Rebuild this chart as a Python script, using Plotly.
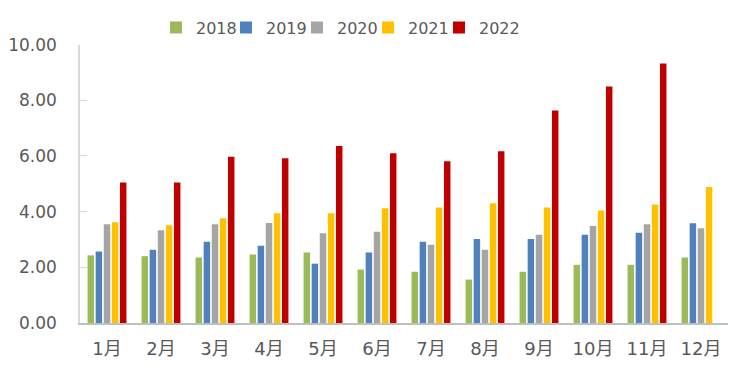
import plotly.graph_objects as go

months = ["1月", "2月", "3月", "4月", "5月", "6月", "7月", "8月", "9月", "10月", "11月", "12月"]
v2018 = [2.43, 2.40, 2.35, 2.46, 2.53, 1.92, 1.84, 1.56, 1.84, 2.09, 2.09, 2.35]
v2019 = [2.57, 2.63, 2.92, 2.77, 2.13, 2.53, 2.92, 3.02, 3.02, 3.17, 3.24, 3.58]
v2020 = [3.55, 3.33, 3.55, 3.59, 3.22, 3.28, 2.81, 2.63, 3.17, 3.48, 3.55, 3.40]
v2021 = [3.62, 3.51, 3.76, 3.94, 3.94, 4.12, 4.15, 4.30, 4.15, 4.04, 4.26, 4.88]
v2022 = [5.05, 5.05, 5.97, 5.92, 6.36, 6.10, 5.81, 6.17, 7.63, 8.49, 9.32, None]

series = [("2018", v2018, "#9BBB59"), ("2019", v2019, "#4F81BD"),
          ("2020", v2020, "#A5A5A5"), ("2021", v2021, "#FFC000"),
          ("2022", v2022, "#C00000")]

W, H = 737, 369
legend_left_px = [148, 218, 289, 360, 431]

fig = go.Figure()
legend_ids = ["legend", "legend2", "legend3", "legend4", "legend5"]
for (name, vals, col), lid in zip(series, legend_ids):
    fig.add_trace(go.Bar(name=name, x=months, y=vals, marker_color=col,
                         marker_line_width=0, legend=lid))

layout_legends = {}
for lid, px in zip(legend_ids, legend_left_px):
    layout_legends[lid] = dict(orientation="h", xref="container", yref="container",
                               x=px / W, xanchor="left", y=0.947, yanchor="middle",
                               font=dict(size=16, color="#595959"), itemwidth=30,
                               bgcolor="rgba(0,0,0,0)")

fig.update_layout(
    width=W, height=H,
    margin=dict(l=72, r=17, t=35, b=54),
    paper_bgcolor="white", plot_bgcolor="white",
    barmode="group", bargap=0.25, bargroupgap=0.2,
    font=dict(family="DejaVu Sans, sans-serif", color="#595959", size=17),
    showlegend=True,
    **layout_legends,
)
fig.update_xaxes(showline=True, linecolor="#BFBFBF", linewidth=1.5, ticks="",
                 ticklabelstandoff=9, automargin=False,
                 tickfont=dict(family="DejaVu Sans, Noto Sans CJK SC, sans-serif", size=18, color="#595959"))
fig.update_yaxes(range=[0, 10], dtick=2, tickformat=".2f", showgrid=False,
                 showline=True, linecolor="#D9D9D9", linewidth=1.5,
                 ticks="inside", ticklen=7, tickcolor="#D9D9D9",
                 ticklabelstandoff=18, automargin=False,
                 zeroline=False, tickfont=dict(size=17, color="#595959"))

fig.write_html("out.html")
